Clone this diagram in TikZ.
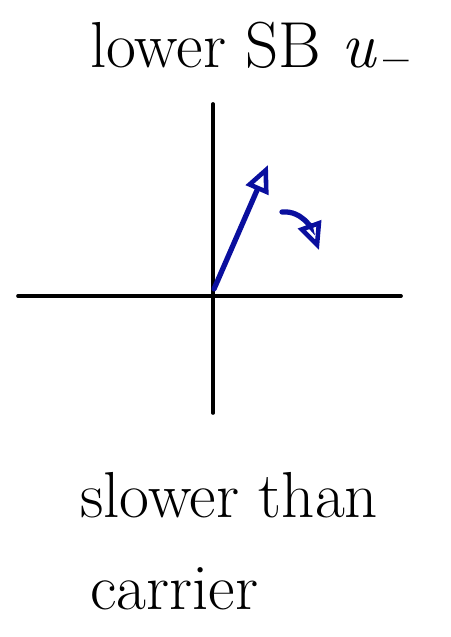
\documentclass[tikz,border=0pt]{standalone}
\usepackage{amsmath,amssymb}
\usepackage{tikz}
\usetikzlibrary{arrows.meta, positioning}
\definecolor{inkblue}{HTML}{0A0F9E}
\tikzset{
    axis/.style={draw=black, line width=2.1pt, line cap=round},
    phasor/.style={draw=inkblue, line width=3pt, line cap=round, -{Triangle[open, length=5.5mm, width=4.8mm, line width=2.6pt]}},
    note/.style={font=\fontsize{37}{40}\selectfont, inner sep=0pt}
}
\begin{document}
\begin{tikzpicture}
    \useasboundingbox (0,0) rectangle (9,12.74);
    % axes
    \coordinate (O) at (4.26,6.82);
    \coordinate (xl) at (0.36,6.82);
    \coordinate (xr) at (8.02,6.82);
    \coordinate (yt) at (4.26,10.66);
    \coordinate (yb) at (4.26,4.48);
    \draw[axis] (xl) -- (xr);
    \draw[axis] (yb) -- (yt);
    % phasor and its rotation
    \coordinate (p0) at (4.28,6.96);
    \coordinate (p1) at (5.36,9.44);
    \draw[phasor] (p0) -- (p1);
    \coordinate (r0) at (5.64,8.50);
    \coordinate (r1) at (6.38,7.74);
    \draw[phasor] (r0) to[out=5, in=110] (r1);
    % labels
    \node[note] (title) at (5.0,11.78) {lower SB {\itshape u}\kern0.12em\textsubscript{\bfseries --}};
    \node[note, anchor=west] (slower) at (1.6,2.84) {slower than};
    \node[note, anchor=west] (carrier) at (1.8,0.96) {carrier};
\end{tikzpicture}
\end{document}
